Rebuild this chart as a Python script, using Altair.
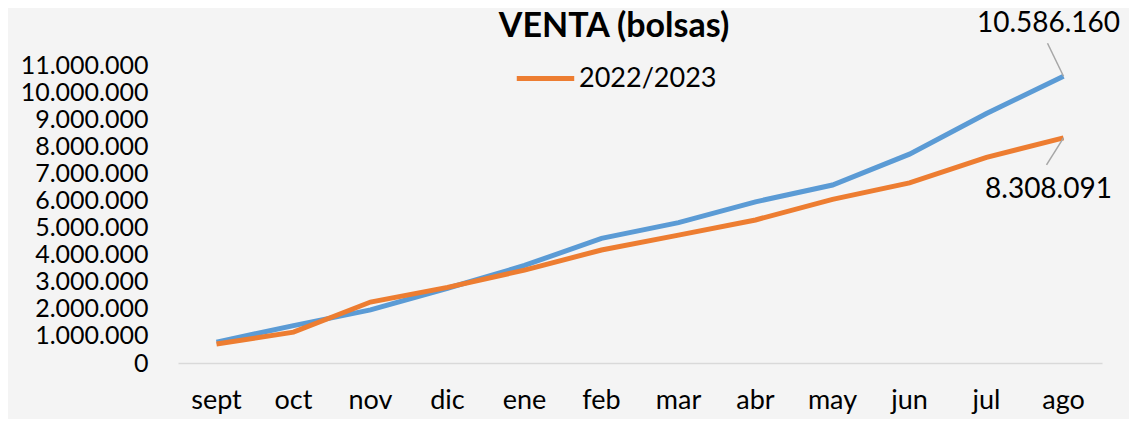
import altair as alt
import pandas as pd

months = ["sept", "oct", "nov", "dic", "ene", "feb", "mar", "abr", "may", "jun", "jul", "ago"]
serie_azul_nombre = "2023/2024"
serie_naranja_nombre = "2022/2023"
azul = [770000, 1380000, 1960000, 2760000, 3600000, 4600000, 5180000, 5950000, 6570000, 7710000, 9210000, 10586160]
naranja = [700000, 1140000, 2250000, 2790000, 3430000, 4170000, 4720000, 5280000, 6040000, 6650000, 7590000, 8308091]
titulo = "VENTA (bolsas)"

rows = []
for i, m in enumerate(months):
    rows.append({"mes": m, "serie": serie_azul_nombre, "valor": azul[i], "orden": i})
    rows.append({"mes": m, "serie": serie_naranja_nombre, "valor": naranja[i], "orden": i})
df = pd.DataFrame(rows)

FONT = "Lato"
BLUE = "#5B9BD5"
ORANGE = "#ED7D31"

x = alt.X("mes:N", sort=months, title=None,
          axis=alt.Axis(labelAngle=0, labelFontSize=27, labelColor="#000000", labelFont=FONT,
                        ticks=False, domainColor="#d9d9d9", domainWidth=1.5, labelPadding=24))
y = alt.Y("valor:Q", title=None,
          scale=alt.Scale(domain=[0, 11000000], nice=False),
          axis=alt.Axis(values=list(range(0, 11000001, 1000000)), grid=False, domain=False, ticks=False,
                        labelFontSize=25, labelColor="#000000", labelFont=FONT, labelPadding=30,
                        labelExpr="replace(format(datum.value, ',d'), regexp(',', 'g'), '.')"))

color = alt.Color("serie:N",
                  scale=alt.Scale(domain=[serie_azul_nombre, serie_naranja_nombre], range=[BLUE, ORANGE]),
                  legend=alt.Legend(values=[serie_naranja_nombre], title=None, orient="none",
                                    legendX=336, legendY=-18, symbolType="stroke", symbolSize=3300,
                                    symbolStrokeWidth=5, labelFontSize=27, labelFont=FONT,
                                    labelColor="#000000", labelOffset=2))

lines = alt.Chart(df).mark_line(strokeWidth=5).encode(x=x, y=y, color=color, order="orden:Q")

last = alt.Chart(df).transform_filter(alt.datum.mes == "ago").transform_calculate(
    etiqueta="replace(format(datum.valor, ',d'), regexp(',', 'g'), '.')"
)

rule_b = last.transform_filter(alt.datum.serie == serie_azul_nombre).mark_rule(
    color="#a6a6a6", strokeWidth=1.5, x2Offset=-16, y2Offset=-33
).encode(x=x, y=y, x2="mes:N", y2="valor:Q")
rule_o = last.transform_filter(alt.datum.serie == serie_naranja_nombre).mark_rule(
    color="#a6a6a6", strokeWidth=1.5, x2Offset=-17, y2Offset=27
).encode(x=x, y=y, x2="mes:N", y2="valor:Q")

text_b = last.transform_filter(alt.datum.serie == serie_azul_nombre).mark_text(
    fontSize=28, font=FONT, color="#000000", dx=-15, dy=-52, align="center", baseline="middle"
).encode(x=x, y=y, text="etiqueta:N")
text_o = last.transform_filter(alt.datum.serie == serie_naranja_nombre).mark_text(
    fontSize=28, font=FONT, color="#000000", dx=-15, dy=52, align="center", baseline="middle"
).encode(x=x, y=y, text="etiqueta:N")

title_mark = alt.Chart(pd.DataFrame({"t": [titulo]})).mark_text(
    fontSize=34, font=FONT, fontWeight="bold", color="#000000", align="center", baseline="middle"
).encode(text="t:N", x=alt.value(436), y=alt.value(-38))

chart = alt.layer(lines, rule_b, rule_o, text_b, text_o, title_mark).properties(
    width=924, height=298,
    autosize=alt.AutoSizeParams(type="none"),
    padding={"left": 170, "top": 57, "right": 27, "bottom": 56},
    background="#f4f4f4",
).configure_view(stroke=None)

chart.save("out.html", embed_options={"renderer": "svg", "actions": False})
